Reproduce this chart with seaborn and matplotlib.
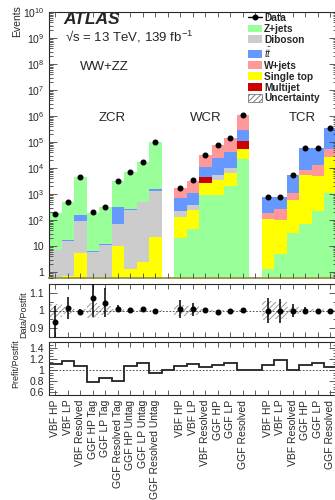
import numpy as np
import matplotlib
matplotlib.use('Agg')
from matplotlib import pyplot as plt
from matplotlib.patches import Patch
from matplotlib.lines import Line2D
from matplotlib.ticker import LogLocator, NullFormatter, MultipleLocator
import seaborn as sns

# categories, one empty bin between the regions
zcr_bins = ['VBF HP', 'VBF LP', 'VBF Resolved', 'GGF HP Tag', 'GGF LP Tag', 'GGF Resolved Tag',
            'GGF HP Untag', 'GGF LP Untag', 'GGF Resolved Untag']
wcr_bins = ['VBF HP', 'VBF LP', 'VBF Resolved', 'GGF HP', 'GGF LP', 'GGF Resolved']
tcr_bins = ['VBF HP', 'VBF LP', 'VBF Resolved', 'GGF HP', 'GGF LP', 'GGF Resolved']
bin_labels = zcr_bins + [''] + wcr_bins + [''] + tcr_bins
bin_region = ['ZCR'] * 9 + [''] + ['WCR'] * 6 + [''] + ['TCR'] * 6

# postfit yields per process (ZCR 9 | gap | WCR 6 | gap | TCR 6)
zjets = [178, 463, 4250, 175, 293, 2900, 6480, 16400, 98400, 0,
         20, 45, 935, 935, 1950, 22400, 0,
         1.3, 5, 32, 72, 230, 1120]
singletop = [0.65, 0.7, 5.5, 0.55, 0.55, 10, 1.3, 2.4, 23, 0,
             112, 205, 1700, 2600, 4500, 32600, 0,
             108, 91, 533, 5430, 4570, 24600]
multijet = [0, 0, 0, 0, 0, 0, 0, 0, 0, 0,
            0, 0, 1700, 0, 0, 50000, 0,
            0, 0, 0, 0, 0, 0]
diboson = [6.2, 15.3, 83, 5.6, 10.5, 62, 249, 473, 1320, 0,
           82, 140, 0, 1950, 3550, 5000, 0,
           0, 4, 0, 0, 0, 0]
ttbar = [0.5, 1, 61, 0.4, 1, 244, 10, 25, 200, 0,
         490, 710, 6200, 18500, 30700, 185000, 0,
         575, 500, 4400, 48400, 43600, 302500]
wjets = [0, 0, 0, 0, 0, 0, 0, 0, 0, 0,
         1060, 2200, 22465, 50000, 107300, 775000, 0,
         76, 170, 535, 3100, 8600, 26800]

data = [172, 487, 4360, 195, 316, 3250, 6760, 17040, 100000, np.nan,
        1782, 3320, 33066, 73550, 148000, 1072000, np.nan,
        761, 758, 5500, 57000, 57000, 355000]

# lower panels
ratio = [0.933, 1.015, 0.992, 1.072, 1.044, 1.01, 1.002, 1.008, 1.0, np.nan,
         1.01, 1.006, 1.002, 0.994, 1.0, 1.002, np.nan,
         1.0, 0.996, 1.0, 1.0, 1.0, 1.0]
ratio_err = [0.09, 0.063, 0.016, 0.108, 0.083, 0.02, 0.01, 0.006, 0.005, np.nan,
             0.052, 0.036, 0.014, 0.005, 0.004, 0.003, np.nan,
             0.072, 0.067, 0.035, 0.018, 0.01, 0.01]
syst = [0.035, 0.02, 0.006, 0.04, 0.025, 0.01, 0.005, 0.004, 0.003, 0,
        0.03, 0.025, 0.01, 0.004, 0.003, 0.002, 0,
        0.055, 0.05, 0.02, 0.01, 0.006, 0.005]
prefit = [1.104, 1.165, 1.073, 0.786, 0.847, 0.804, 1.061, 1.122, 0.939, 0.99,
          1.061, 1.10, 1.06, 1.08, 1.12, 0.99, 0.99,
          1.09, 1.18, 1.0, 1.08, 1.12, 1.06]

colors = {'Z+jets': '#99ff99', 'Diboson': '#cccccc', 'tt': '#6699ff',
          'W+jets': '#ff9999', 'Single top': '#ffff00', 'Multijet': '#cc0000'}
# stack order, top to bottom
stack_order = {'ZCR': ['Z+jets', 'tt', 'Diboson', 'Single top'],
               'WCR': ['W+jets', 'tt', 'Diboson', 'Multijet', 'Single top', 'Z+jets'],
               'TCR': ['tt', 'W+jets', 'Diboson', 'Single top', 'Z+jets']}

procs = {'Z+jets': zjets, 'Diboson': diboson, 'tt': ttbar, 'W+jets': wjets,
         'Single top': singletop, 'Multijet': multijet}

sns.set_style('ticks')
plt.rcParams['font.family'] = ['Liberation Sans', 'DejaVu Sans']
plt.rcParams['mathtext.fontset'] = 'custom'
plt.rcParams['mathtext.rm'] = 'Liberation Sans'
plt.rcParams['mathtext.it'] = 'Liberation Sans:italic'
plt.rcParams['mathtext.bf'] = 'Liberation Sans:bold'
plt.rcParams['hatch.linewidth'] = 0.7
plt.rcParams['hatch.color'] = '#999999'
plt.rcParams['axes.linewidth'] = 0.8

nb = len(bin_labels)
x = np.arange(nb)
edges = np.arange(nb + 1) - 0.5

fig = plt.figure(figsize=(3.35, 5.0), dpi=100)
L, W = 49 / 335, 287.5 / 335
ax = fig.add_axes([L, 1 - 278 / 500, W, 266 / 500])
r1 = fig.add_axes([L, 1 - 337 / 500, W, 53 / 500])
r2 = fig.add_axes([L, 1 - 395 / 500, W, 53 / 500])

ax.set_yscale('log')
# stack: draw each cumulative layer, top one first, lower ones over it
for reg, order in stack_order.items():
    idx = [i for i, r in enumerate(bin_region) if r == reg]
    for k, p in enumerate(order):
        cum = np.zeros(len(idx))
        for q in order[k:]:
            cum += np.array(procs[q], dtype=float)[idx]
        sns.histplot(x=idx, weights=cum, discrete=True, color=colors[p], alpha=1,
                     linewidth=0, ax=ax)

ax.plot(x, data, 'o', color='k', ms=3.3, zorder=5)
ax.set_xlim(-0.5, nb - 0.5)
ax.set_ylim(0.59, 1e10)
ax.set_xlabel('')
ax.set_ylabel('Events', loc='top', fontsize=7.5)
ax.yaxis.set_label_coords(-0.094, 1.026)
ylab = ['1', '10'] + ['$10^{%d}$' % k for k in range(2, 11)]
ax.set_yticks([10.0 ** k for k in range(0, 11)], ylab)
ax.yaxis.set_minor_locator(LogLocator(base=10, subs=np.arange(2, 10), numticks=30))
ax.yaxis.set_minor_formatter(NullFormatter())
ax.set_xticks(x, [''] * nb)
ax.spines['bottom'].set_color('#9d9a4a')
ax.spines['bottom'].set_linewidth(1.4)

for a in (ax, r1, r2):
    a.set_axisbelow(False)
    a.tick_params(which='both', direction='in', top=True, right=True, labelsize=7.5,
                  width=0.6, color='#444444')
    a.tick_params(axis='y', which='major', length=6)
    a.tick_params(axis='y', which='minor', length=3)
    a.tick_params(axis='x', which='major', length=3.5)
    a.set_xlim(-0.5, nb - 0.5)

# Data / Postfit
r1.bar(x, 2 * np.array(syst), bottom=1 - np.array(syst), width=1, facecolor='none',
       edgecolor='#999999', hatch='//////', linewidth=0)
r1.axhline(1, ls=(0, (2, 2)), color='#333333', lw=0.6)
r1.errorbar(x, ratio, yerr=ratio_err, fmt='o', color='k', ms=3.3, elinewidth=1.1,
            capsize=0, zorder=5)
r1.set_ylim(0.85, 1.15)
r1.set_yticks([0.9, 1.0, 1.1], ['0.9', '1', '1.1'])
r1.yaxis.set_minor_locator(MultipleLocator(0.05))
r1.set_xticks(x, [''] * nb)
r1.set_ylabel('Data/Postfit', fontsize=6.5)
r1.yaxis.set_label_coords(-0.073, 0.415)

# Prefit / Postfit
r2.stairs(prefit, edges, color='#222222', lw=1.3, baseline=None)
r2.axhline(1, ls=(0, (2, 2)), color='#333333', lw=0.6)
r2.set_ylim(0.55, 1.5)
r2.set_yticks([0.6, 0.8, 1.0, 1.2, 1.4], ['0.6', '0.8', '1', '1.2', '1.4'])
r2.yaxis.set_minor_locator(MultipleLocator(0.05))
r2.set_xticks(x, bin_labels, rotation=90, fontsize=7.5)
r2.set_ylabel('Prefit/Postfit', fontsize=6.5)
r2.yaxis.set_label_coords(-0.101, 0.585)

# texts
fig.text(63 / 335, 1 - 20 / 500, 'ATLAS', fontsize=12.5, fontweight='bold', fontstyle='italic',
         va='center', ha='left')
fig.text(65 / 335, 1 - 37 / 500, '√s = 13 TeV, 139 fb$^{-1}$', fontsize=9.5, va='center')
fig.text(80 / 335, 1 - 67 / 500, 'WW+ZZ', fontsize=9.5, va='center')
for name, cx in zip(['ZCR', 'WCR', 'TCR'], [112, 206, 302]):
    fig.text(cx / 335, 1 - 118 / 500, name, fontsize=9.5, va='center', ha='center')

handles = [Line2D([], [], color='k', marker='o', ms=3.3, lw=1)]
names = ['Data', 'Z+jets', 'Diboson', '$t\\bar{t}$', 'W+jets', 'Single top', 'Multijet', 'Uncertainty']
for p in ['Z+jets', 'Diboson', 'tt', 'W+jets', 'Single top', 'Multijet']:
    handles.append(Patch(facecolor=colors[p], edgecolor='none'))
handles.append(Patch(facecolor='white', edgecolor='#777777', hatch='//////', lw=0.6))
ax.legend(handles, names, loc='upper left', bbox_to_anchor=(0.69, 1.0), frameon=False,
          prop={'size': 7.3, 'weight': 'bold'}, labelspacing=0.09, handlelength=1.35,
          handleheight=0.8, handletextpad=0.2, borderpad=0.1, borderaxespad=0)

fig.savefig('out.png', dpi=100)
